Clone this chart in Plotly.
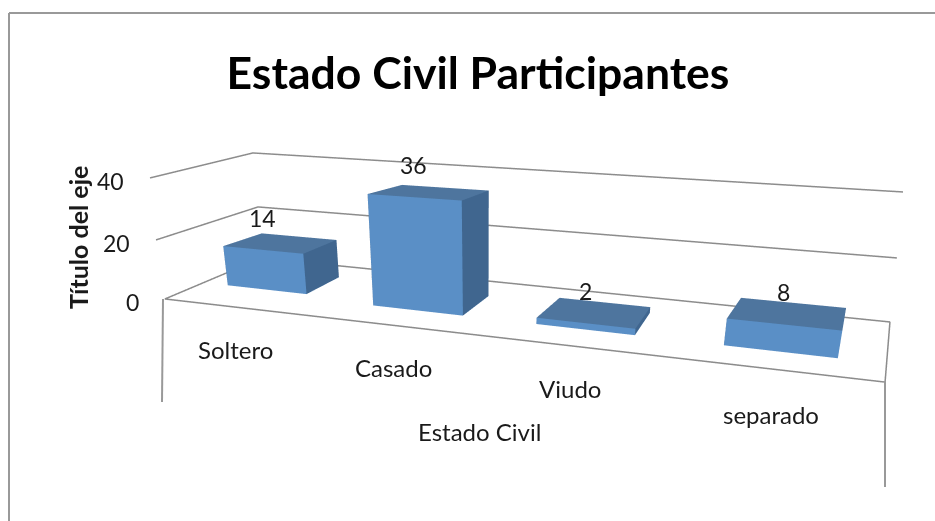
import plotly.graph_objects as go

categories = ['Soltero', 'Casado', 'Viudo', 'separado']
values = [14, 36, 2, 8]
y_ticks = [0, 20, 40]
axis_title_x = 'Estado Civil'
axis_title_y = 'Título del eje'
chart_title = 'Estado Civil Participantes'

W, H = 935, 521

# camera fitted against the picture
eye = dict(x=0.2436, y=-0.8342, z=0.2260)
center = dict(x=0.0383, y=0.0031, z=-0.0150)
up = dict(x=-0.0220, y=-0.0056, z=1)
aspect_y, aspect_z = 0.4606, 0.1834
view_left, view_right, view_top, view_bottom = 140, 935, 0, 521

# where each bar stands on the floor
bar_centers = [0.449, 1.494, 2.474, 3.472]
bar_widths = [0.565, 0.559, 0.541, 0.544]
bar_fronts = [0.433, 0.40, 0.40, 0.40]
bar_depth = 0.2
bar_lean = [0, 0.03, 0.05, 0.09]

# outline of the floor and walls at each tick level, in scene units
front_left = {0: (0.004, 0.254), 20: (0.026, 0.241), 40: (0.103, 0.211)}
back_left = {0: (-0.047, 0.767), 20: (-0.084, 0.799), 40: (-0.220, 0.894)}
back_right = {0: (4.143, 0.749), 20: (4.136, 0.781), 40: (4.128, 0.821)}
front_right_floor = (3.902, 0.279)

FRONT, TOP, SIDE = '#5a8fc6', '#4e759e', '#40668f'
GREY = '#8c8c8c'
TEXT = '#1a1a1a'
FONT = 'Lato'


def px_x(p):
    return p / W


def px_y(p):
    return 1 - p / H


fig = go.Figure()

for i, v in enumerate(values):
    x0, x1 = bar_centers[i] - bar_widths[i] / 2, bar_centers[i] + bar_widths[i] / 2
    y0, y1 = bar_fronts[i], bar_fronts[i] + bar_depth
    lean = bar_lean[i]
    fig.add_trace(go.Mesh3d(
        x=[x0, x1, x1 + lean, x0 + lean, x0, x1, x1 + lean, x0 + lean],
        y=[y0, y0, y1, y1, y0, y0, y1, y1],
        z=[0, 0, 0, 0, v, v, v, v],
        i=[0, 0, 4, 4, 1, 1, 0, 0, 3, 3],
        j=[1, 2, 5, 6, 2, 6, 1, 5, 0, 4],
        k=[2, 3, 6, 7, 6, 5, 5, 4, 4, 7],
        facecolor=[FRONT, FRONT, TOP, TOP, SIDE, SIDE, FRONT, FRONT, SIDE, SIDE],
        flatshading=True,
        lighting=dict(ambient=1, diffuse=0, specular=0, fresnel=0),
        hoverinfo='skip',
    ))

floor = [front_right_floor, front_left[0], back_left[0], back_right[0], front_right_floor]
fig.add_trace(go.Scatter3d(x=[c[0] for c in floor], y=[c[1] for c in floor], z=[0] * 5, mode='lines',
                           line=dict(color=GREY, width=3), hoverinfo='skip'))
for tk in y_ticks[1:]:
    wall = [front_left[tk], back_left[tk], back_right[tk]]
    fig.add_trace(go.Scatter3d(x=[c[0] for c in wall], y=[c[1] for c in wall], z=[tk] * 3, mode='lines',
                               line=dict(color=GREY, width=3), hoverinfo='skip'))

scene_notes = []
for i, v in enumerate(values):
    scene_notes.append(dict(x=bar_centers[i], y=bar_fronts[i], z=v, text=str(v), showarrow=False, yshift=32,
                            font=dict(family=FONT, size=23, color=TEXT)))
for tk in y_ticks:
    scene_notes.append(dict(x=front_left[tk][0], y=front_left[tk][1], z=tk, text=str(tk), showarrow=False,
                            xanchor='right', xshift=-24, yshift=-3,
                            font=dict(family=FONT, size=23, color=TEXT)))

label_px = [(235, 349), (393, 367), (570, 388), (771, 414)]
notes = [dict(text=c, x=px_x(p[0]), y=px_y(p[1]), xref='paper', yref='paper', showarrow=False,
              xanchor='center', yanchor='middle', font=dict(family=FONT, size=24, color=TEXT))
         for c, p in zip(categories, label_px)]
notes.append(dict(text=axis_title_x, x=px_x(479), y=px_y(431), xref='paper', yref='paper', showarrow=False,
                  xanchor='center', yanchor='middle', font=dict(family=FONT, size=24, color=TEXT)))
notes.append(dict(text='<b>%s</b>' % axis_title_y, x=px_x(78), y=px_y(238), xref='paper', yref='paper',
                  showarrow=False, textangle=-90, xanchor='center', yanchor='middle',
                  font=dict(family=FONT, size=25, color=TEXT)))

rule = dict(type='line', xref='paper', yref='paper', line=dict(color='#999999', width=2))
shapes = [
    dict(rule, x0=px_x(9), x1=1, y0=px_y(13), y1=px_y(13)),
    dict(rule, x0=px_x(9), x1=px_x(9), y0=px_y(13), y1=0),
    dict(rule, x0=px_x(163), x1=px_x(162), y0=px_y(299), y1=px_y(402)),
    dict(rule, x0=px_x(885), x1=px_x(885), y0=px_y(382), y1=px_y(487)),
]

hidden = dict(visible=False, showgrid=False, zeroline=False, showbackground=False)
fig.update_layout(
    width=W, height=H, margin=dict(l=0, r=0, t=0, b=0), paper_bgcolor='white', showlegend=False,
    title=dict(text='<b>%s</b>' % chart_title, x=px_x(478), y=px_y(73), xref='paper', yref='paper',
               xanchor='center', yanchor='middle', font=dict(family=FONT, size=44.5, color='#000000')),
    annotations=notes, shapes=shapes,
    scene=dict(
        domain=dict(x=[view_left / W, view_right / W], y=[1 - view_bottom / H, 1 - view_top / H]),
        xaxis=dict(range=[-1, 5], **hidden), yaxis=dict(range=[-1, 2], **hidden), zaxis=dict(range=[0, 40], **hidden),
        aspectmode='manual', aspectratio=dict(x=1.5, y=aspect_y * 3, z=aspect_z),
        camera=dict(eye=eye, center=center, up=up, projection=dict(type='perspective')),
        dragmode='orbit', annotations=scene_notes,
    ),
)
fig.write_html("out.html", post_script="document.body.style.margin='0';", config={'displayModeBar': False})
